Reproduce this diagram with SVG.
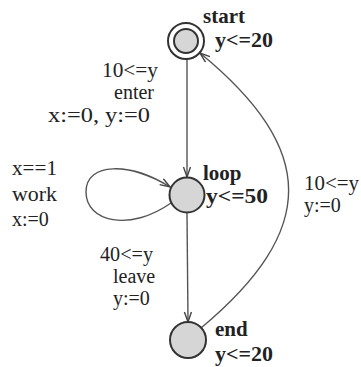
<svg xmlns="http://www.w3.org/2000/svg" width="361" height="367" viewBox="0 0 361 367">
<style>
.node{fill:#d6d6d6;stroke:#333;stroke-width:2}
.ring{fill:#fff;stroke:#333;stroke-width:2}
.edge{fill:none;stroke:#555;stroke-width:1.4}
.nl{font-family:"Liberation Serif",serif;font-weight:bold;font-size:21px;fill:#222}
.el{font-family:"Liberation Serif",serif;font-size:20px;fill:#222}
</style>
<defs>
<marker id="arr" markerUnits="userSpaceOnUse" markerWidth="12" markerHeight="10" refX="11" refY="4" orient="auto">
<path d="M1,0.5 L11,4 L1,7.5" fill="none" stroke="#444" stroke-width="1.4"/>
</marker>
</defs>
<rect width="361" height="367" fill="#fff"/>
<g id="connectors">
<path class="edge" d="M187,59 L187,177" marker-end="url(#arr)"/>
<path class="edge" d="M187,213 L188,322" marker-end="url(#arr)"/>
<path class="edge" d="M171,203 C130,232 86,222 86,192 C86,162 130,162 170,187" marker-end="url(#arr)"/>
<path class="edge" d="M201,328 C318,230 318,150 200,53" marker-end="url(#arr)"/>
</g>
<g id="start">
<circle class="ring" cx="186" cy="41" r="18"/>
<circle class="node" cx="186" cy="41" r="12"/>
<text class="nl" x="203" y="23">start</text>
<text class="nl" x="215" y="47" textLength="58" lengthAdjust="spacingAndGlyphs">y&lt;=20</text>
</g>
<g id="loop">
<circle class="node" cx="187" cy="195" r="17.5"/>
<text class="nl" x="203" y="180">loop</text>
<text class="nl" x="206" y="203" textLength="62" lengthAdjust="spacingAndGlyphs">y&lt;=50</text>
</g>
<g id="end">
<circle class="node" cx="188" cy="340" r="18"/>
<text class="nl" x="215" y="336">end</text>
<text class="nl" x="215" y="361" textLength="58" lengthAdjust="spacingAndGlyphs">y&lt;=20</text>
</g>
<g id="labels">
<text class="el" x="102" y="77" textLength="56" lengthAdjust="spacingAndGlyphs">10&lt;=y</text>
<text class="el" x="114" y="99">enter</text>
<text class="el" x="48" y="122" textLength="102" lengthAdjust="spacingAndGlyphs">x:=0, y:=0</text>
<text class="el" x="12" y="175" textLength="45" lengthAdjust="spacingAndGlyphs">x==1</text>
<text class="el" x="12" y="201" textLength="45" lengthAdjust="spacingAndGlyphs">work</text>
<text class="el" x="12" y="226">x:=0</text>
<text class="el" x="304" y="190" textLength="55" lengthAdjust="spacingAndGlyphs">10&lt;=y</text>
<text class="el" x="304" y="212">y:=0</text>
<text class="el" x="100" y="261" textLength="53" lengthAdjust="spacingAndGlyphs">40&lt;=y</text>
<text class="el" x="113" y="283">leave</text>
<text class="el" x="113" y="305">y:=0</text>
</g>
</svg>
